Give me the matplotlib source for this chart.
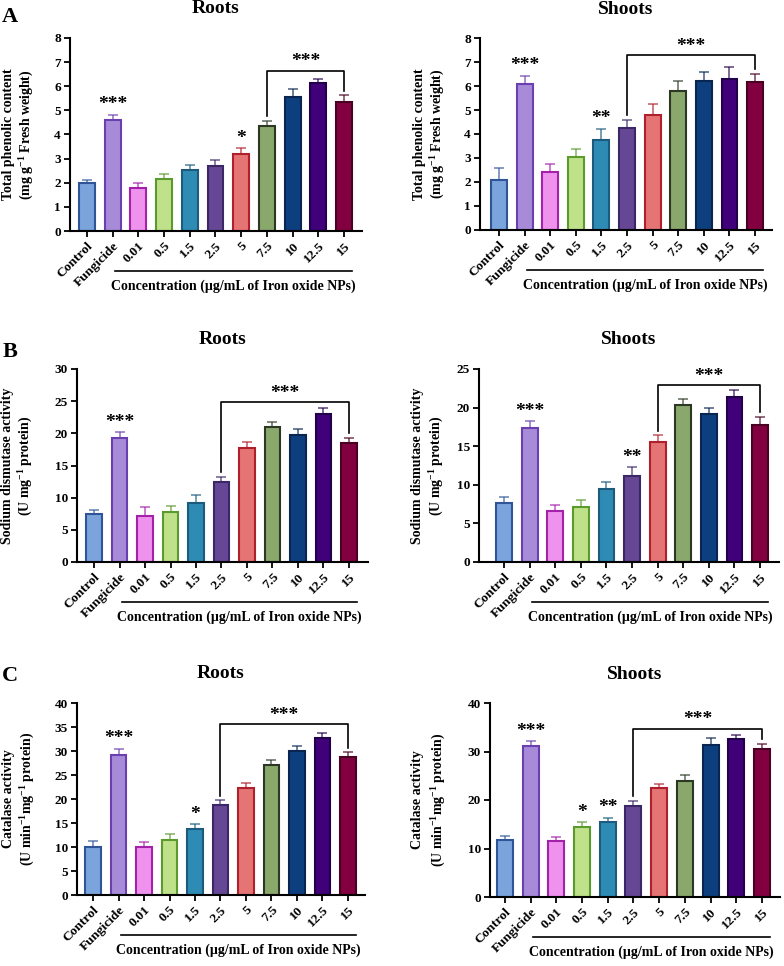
import numpy as np
import matplotlib
matplotlib.use('Agg')
import matplotlib.pyplot as plt

plt.rcParams['font.family'] = ['Liberation Serif', 'DejaVu Serif']
plt.rcParams['font.weight'] = 'bold'
plt.rcParams['mathtext.fontset'] = 'custom'
plt.rcParams['mathtext.rm'] = 'Liberation Serif:bold'
plt.rcParams['mathtext.bf'] = 'Liberation Serif:bold'
plt.rcParams['mathtext.it'] = 'Liberation Serif:bold:italic'

categories = ['Control', 'Fungicide', '0.01', '0.5', '1.5', '2.5', '5', '7.5', '10', '12.5', '15']

fill_colors = ['#7ba3dc', '#a78bd8', '#ee92ee', '#bfe18a', '#2e8cb4', '#664795',
               '#e57474', '#8aa86c', '#0d3f7e', '#3f0079', '#820040']
edge_colors = ['#2f5597', '#6a40b0', '#a421aa', '#5b9a2c', '#1c5b7c', '#3c2766',
               '#b01f2c', '#2c3824', '#0a2550', '#23004a', '#4a0022']

# (A) total phenolic content
phenolic_roots = [2.0, 4.6, 1.8, 2.17, 2.53, 2.7, 3.18, 4.35, 5.57, 6.15, 5.35]
phenolic_roots_err = [0.12, 0.22, 0.2, 0.21, 0.22, 0.25, 0.25, 0.22, 0.3, 0.15, 0.27]
phenolic_shoots = [2.1, 6.1, 2.4, 3.05, 3.75, 4.25, 4.8, 5.8, 6.2, 6.3, 6.15]
phenolic_shoots_err = [0.48, 0.32, 0.36, 0.33, 0.47, 0.35, 0.47, 0.42, 0.4, 0.48, 0.35]

# (B) sodium dismutase activity
sod_roots = [7.4, 19.2, 7.2, 7.7, 9.2, 12.4, 17.7, 21.0, 19.7, 23.0, 18.5]
sod_roots_err = [0.7, 1.0, 1.3, 1.0, 1.2, 0.8, 1.0, 0.8, 0.9, 1.0, 0.8]
sod_shoots = [7.6, 17.3, 6.6, 7.1, 9.4, 11.1, 15.5, 20.3, 19.2, 21.4, 17.8]
sod_shoots_err = [0.8, 0.9, 0.8, 0.9, 0.9, 1.2, 0.9, 0.8, 0.7, 0.9, 1.0]

# (C) catalase activity
cat_roots = [10.1, 29.1, 10.1, 11.5, 13.7, 18.8, 22.3, 27.0, 30.1, 32.8, 28.8]
cat_roots_err = [1.2, 1.4, 1.0, 1.2, 1.1, 0.9, 1.0, 1.1, 1.0, 1.0, 0.9]
cat_shoots = [11.7, 31.1, 11.6, 14.4, 15.5, 18.7, 22.4, 24.0, 31.4, 32.6, 30.6]
cat_shoots_err = [0.8, 1.0, 0.7, 1.0, 0.8, 1.1, 1.0, 1.1, 1.3, 0.9, 1.0]

# significance marks: {bar index: stars}, bracket (first, last, level)
phenolic_roots_sig = {1: '***', 6: '*'}
phenolic_roots_bracket = (7, 10, 6.64)
phenolic_shoots_sig = {1: '***', 4: '**'}
phenolic_shoots_bracket = (5, 10, 7.29)
sod_roots_sig = {1: '***'}
sod_roots_bracket = (5, 10, 24.8)
sod_shoots_sig = {1: '***', 5: '**'}
sod_shoots_bracket = (6, 10, 22.9)
cat_roots_sig = {1: '***', 4: '*'}
cat_roots_bracket = (5, 10, 35.6)
cat_shoots_sig = {1: '***', 3: '*', 4: '**'}
cat_shoots_bracket = (5, 10, 34.7)

W, H = 784, 966
fig = plt.figure(figsize=(W / 100, H / 100), dpi=100)


def panel(box, xlim, vals, errs, ymax, ystep, ylabel, ylab_x, title, sig, bracket):
    l, t, r, b = box
    ax = fig.add_axes([l / W, 1 - b / H, (r - l) / W, (b - t) / H])
    hpx = b - t
    x = np.arange(len(categories))
    ax.bar(x, vals, width=0.62, color=fill_colors, edgecolor=edge_colors, linewidth=1.5, zorder=2)
    for i in x:
        ax.errorbar(i, vals[i], yerr=[[0], [errs[i]]], color=edge_colors[i], alpha=0.75,
                    elinewidth=1.1, capsize=3.5, capthick=1.1, zorder=1)
    ax.set_xlim(*xlim)
    ax.set_ylim(0, ymax)
    ax.set_yticks(np.arange(0, ymax + 0.01, ystep))
    ax.set_xticks(x)
    ax.set_xticklabels(categories, rotation=45, ha='right', rotation_mode='anchor', fontsize=9.7)
    for lab in ax.get_yticklabels():
        lab.set_fontsize(9.5)
    ax.tick_params(width=1.3, length=4, pad=2.5)
    for s in ['top', 'right']:
        ax.spines[s].set_visible(False)
    for s in ['left', 'bottom']:
        ax.spines[s].set_linewidth(1.5)

    gap = 0.025 * ymax
    for i, st in sig.items():
        ax.text(i, vals[i] + errs[i] + gap * 0.3, st, ha='center', va='bottom', fontsize=14)
    i0, i1, lev = bracket
    ax.plot([i0, i0, i1, i1], [vals[i0] + errs[i0] + gap, lev, lev, vals[i1] + errs[i1] + gap],
            color='black', lw=1.2, zorder=3)
    ax.text((i0 + i1) / 2, lev + 0.1 * gap, '***', ha='center', va='bottom', fontsize=14)

    trans = ax.get_xaxis_transform()
    ax.plot([1.08, 10.3], [-40 / hpx] * 2, color='black', lw=1.2, transform=trans, clip_on=False)
    ax.text(5.7, -55 / hpx, 'Concentration (\u00b5g/mL of Iron oxide NPs)', transform=trans,
            ha='center', va='center', fontsize=10)
    # two-line y label, each line placed on its own
    for line, xx in zip(ylabel, ylab_x):
        fig.text(xx / W, 1 - (t + b) / 2 / H, line, rotation=90,
                 ha='center', va='center', fontsize=10)
    ax.text(0.5, 1 + 29 / hpx, title, transform=ax.transAxes, ha='center', va='center', fontsize=14)
    return ax


lab_a = ['Total phenolic content', '(mg g$^{-1}$ Fresh weight)']
lab_b = ['Sodium dismutase activity', '(U mg$^{-1}$ protein)']
lab_c = ['Catalase activity', '(U min$^{-1}$mg$^{-1}$ protein)']

panel((70, 38, 362, 231), (-0.66, 10.7), phenolic_roots, phenolic_roots_err, 8, 1,
      lab_a, (9, 27), 'Roots', phenolic_roots_sig, phenolic_roots_bracket)
panel((480, 38, 772, 230), (-0.74, 10.66), phenolic_shoots, phenolic_shoots_err, 8, 1,
      lab_a, (420, 438), 'Shoots', phenolic_shoots_sig, phenolic_shoots_bracket)
panel((77, 369, 368, 562), (-0.67, 10.75), sod_roots, sod_roots_err, 30, 5,
      lab_b, (8, 26), 'Roots', sod_roots_sig, sod_roots_bracket)
panel((479, 369, 779, 562), (-0.98, 10.74), sod_shoots, sod_shoots_err, 25, 5,
      lab_b, (418, 437), 'Shoots', sod_shoots_sig, sod_shoots_bracket)
panel((77, 703, 365, 895), (-0.63, 10.67), cat_roots, cat_roots_err, 40, 5,
      lab_c, (9, 28), 'Roots', cat_roots_sig, cat_roots_bracket)
panel((490, 703, 780, 897), (-0.58, 10.7), cat_shoots, cat_shoots_err, 40, 10,
      lab_c, (418, 439), 'Shoots', cat_shoots_sig, cat_shoots_bracket)

for letter, yy in [('A', 17), ('B', 352), ('C', 676)]:
    fig.text(10 / W, 1 - yy / H, letter, ha='center', va='center', fontsize=16)

fig.savefig('out.png', dpi=100)
